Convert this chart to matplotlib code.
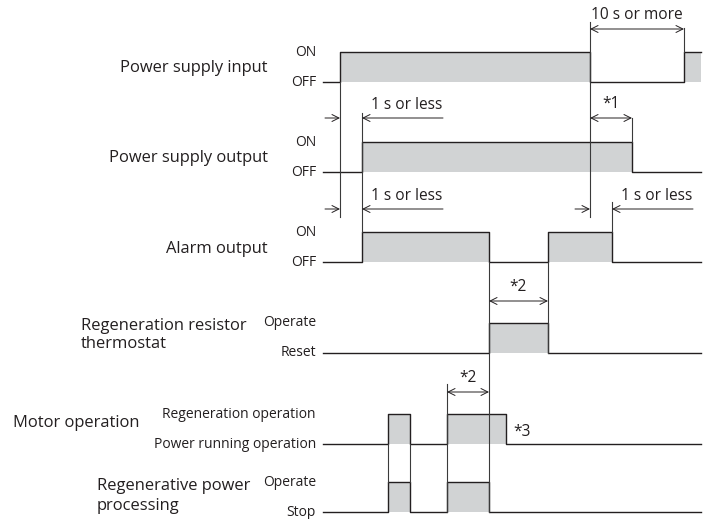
import numpy as np
import matplotlib.pyplot as plt

plt.rcParams['font.family'] = ['Open Sans', 'DejaVu Sans']

# timing chart data (time axis in chart units, left to right)
signal_names = ["Power supply input", "Power supply output", "Alarm output",
                "Regeneration resistor\nthermostat", "Motor operation",
                "Regenerative power\nprocessing"]
state_hi = ["ON", "ON", "ON", "Operate", "Regeneration operation", "Operate"]
state_lo = ["OFF", "OFF", "OFF", "Reset", "Power running operation", "Stop"]
edges = [[340, 590, 684],
         [362, 632],
         [362, 489, 548, 612],
         [489, 548],
         [388, 410, 447, 506],
         [388, 410, 447, 489]]
t_start, t_end = 323, 701

# dimension marks: (text, t0, t1, kind)
dims = [("10 s or more", 590, 684, "both"),
        ("*1", 590, 632, "both"),
        ("1 s or less", 340, 362, "out"),
        ("1 s or less", 340, 362, "out"),
        ("1 s or less", 590, 612, "out"),
        ("*2", 489, 548, "both"),
        ("*2", 447, 489, "both")]

ink = '#231f20'
grey = '#d1d3d4'

fig = plt.figure(figsize=(7.1, 5.19), dpi=100)
ax = fig.add_axes([0, 0, 1, 1])
ax.set_xlim(0, 710)
ax.set_ylim(519, 0)
ax.axis('off')

row_lo = [82, 172, 262, 353, 444, 512]
row_hi = [52, 142, 232, 323, 414, 482]

fs_small = 10.0
fs_big = 11.9
fs_dim = 11.2

for i in range(len(signal_names)):
    t = [t_start] + edges[i] + [t_end]
    st = [k % 2 for k in range(len(t) - 1)]
    st.append(st[-1])
    y = [row_hi[i] if s else row_lo[i] for s in st]
    ax.fill_between(t, row_lo[i], y, step='post', color=grey, lw=0)
    ax.step(t, y, where='post', color=ink, lw=1.0)
    ax.text(316, row_hi[i], state_hi[i], ha='right', va='center', fontsize=fs_small, color=ink)
    ax.text(316, row_lo[i], state_lo[i], ha='right', va='center', fontsize=fs_small, color=ink)

ax.text(268, 68, signal_names[0], ha='right', va='center', fontsize=fs_big, color=ink)
ax.text(268, 158, signal_names[1], ha='right', va='center', fontsize=fs_big, color=ink)
ax.text(268, 249, signal_names[2], ha='right', va='center', fontsize=fs_big, color=ink)
ax.text(81, 335, signal_names[3], ha='left', va='center', fontsize=fs_big, color=ink, linespacing=1.2)
ax.text(13, 423, signal_names[4], ha='left', va='center', fontsize=fs_big, color=ink)
ax.text(97, 496, signal_names[5], ha='left', va='center', fontsize=fs_big, color=ink, linespacing=1.25)

# extension lines
ext = [(340, 82, 217), (362, 113, 232), (590, 22, 217), (684, 28, 52),
       (632, 118, 142), (612, 202, 232), (489, 262, 512), (548, 262, 353),
       (447, 384, 512), (388, 444, 482), (410, 444, 482)]
for x, y0, y1 in ext:
    ax.plot([x, x], [y0, y1], color='#3a3a3a', lw=0.8)

arr = dict(color=ink, lw=0.7, shrinkA=0, shrinkB=0)
dim_y = [29, 118, 118, 209, 209, 301, 392]
for (txt, t0, t1, kind), yy in zip(dims, dim_y):
    if kind == "both":
        ax.annotate('', xy=(t1, yy), xytext=(t0, yy),
                    arrowprops=dict(arrowstyle='<->,head_length=0.5,head_width=0.25', **arr))
        ax.text((t0 + t1) / 2, yy - 14, txt, ha='center', va='center', fontsize=fs_dim, color=ink)
    else:
        ax.annotate('', xy=(t0, yy), xytext=(t0 - 15, yy),
                    arrowprops=dict(arrowstyle='->,head_length=0.5,head_width=0.25', **arr))
        ax.annotate('', xy=(t1, yy), xytext=(t1 + 81, yy),
                    arrowprops=dict(arrowstyle='->,head_length=0.5,head_width=0.25', **arr))
        ax.text(t1 + 9, yy - 13, txt, ha='left', va='center', fontsize=fs_dim, color=ink)

ax.text(513, 432, "*3", ha='left', va='center', fontsize=fs_dim, color=ink)

fig.savefig('out.png', dpi=100)
